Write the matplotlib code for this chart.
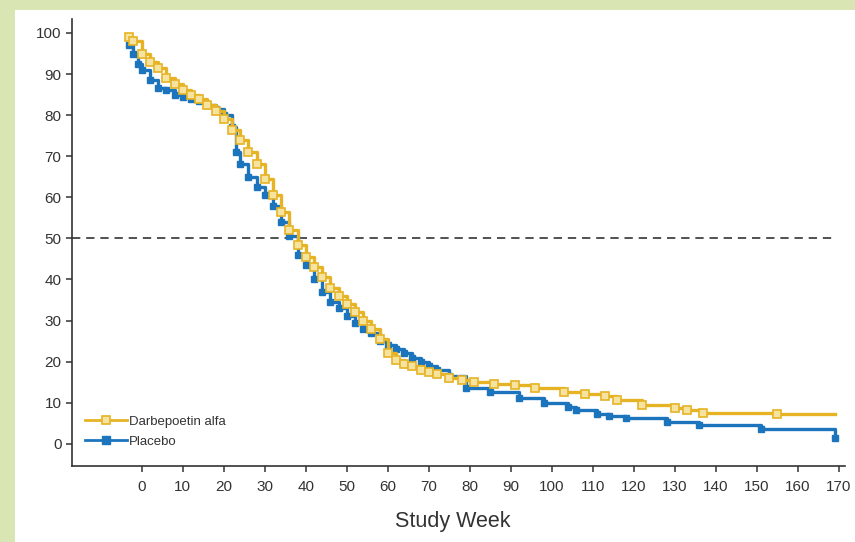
import matplotlib
matplotlib.use("Agg")
import matplotlib.pyplot as plt
from matplotlib.patches import Rectangle
from matplotlib.lines import Line2D
import matplotlib.font_manager as fm

names = {f.name for f in fm.fontManager.ttflist}
fam = [f for f in ["Liberation Sans Narrow", "Liberation Sans", "DejaVu Sans"] if f in names]
plt.rcParams['font.family'] = fam

# ---- data ----
weeks_darbe = [-3, -2, 0, 2, 4, 6, 8, 10, 12, 14, 16, 18, 20, 22, 24, 26, 28, 30, 32, 34,
               36, 38, 40, 42, 44, 46, 48, 50, 52, 54, 56, 58, 60, 62, 64, 66, 68, 70, 72,
               75, 78, 81, 86, 91, 96, 103, 108, 113, 116, 122, 130, 133, 137, 155, 169]
surv_darbe = [99, 98, 95, 93, 91.5, 89, 87.5, 86, 85, 84, 82.5, 81, 79, 76.5, 74, 71, 68,
              64.5, 60.5, 56.5, 52, 48.5, 45.5, 43, 40.5, 38, 36, 34, 32, 30, 28, 25.5, 22,
              20.5, 19.5, 19, 18, 17.5, 17, 16, 15.5, 15, 14.5, 14.2, 13.5, 12.7, 12.2, 11.7,
              10.7, 9.5, 8.8, 8.3, 7.5, 7.3, 7.3]

weeks_placebo = [-3, -2, -1, 0, 2, 4, 6, 8, 10, 12, 14, 16, 18, 20, 22, 23, 24, 26, 28, 30,
                 32, 34, 36, 38, 40, 42, 44, 46, 48, 50, 52, 54, 56, 58, 60, 62, 64, 66, 68,
                 70, 72, 75, 79, 85, 92, 98, 104, 106, 111, 114, 118, 128, 136, 151, 169]
surv_placebo = [97, 95, 92.5, 91, 88.5, 86.5, 86, 85, 84.5, 84, 83.5, 82.5, 81.5, 80, 77, 71,
                68, 65, 62.5, 60.5, 58, 54, 50.5, 46, 43.5, 40, 37, 34.5, 33, 31, 29.5, 28, 27,
                25, 24, 23, 22, 21, 20, 19, 18, 16.5, 13.6, 12.7, 11.2, 10, 9, 8.3, 7.3, 6.8,
                6.3, 5.4, 4.6, 3.6, 1.5]

x_ticks = list(range(0, 171, 10))
y_ticks = list(range(0, 101, 10))
labels = ["Darbepoetin alfa", "Placebo"]
x_label = "Study Week"

gold = "#E6B325"
pale = "#f7e3a0"
blue = "#1C75BC"
txt = "#333333"

fig = plt.figure(figsize=(8.55, 5.42), dpi=100)
fig.patch.set_facecolor("#d9e6b3")
fig.add_artist(Rectangle((15/855, 0), 1 - 15/855, 1 - 10/542, transform=fig.transFigure,
                         facecolor="white", edgecolor="none", zorder=0))

ax = fig.add_axes([0.0842, 0.1402, 0.904, 0.8255])
ax.set_facecolor("none")
xlim = (-17, 171.5)
ax.set_xlim(*xlim)
ax.set_ylim(-5.4, 103.5)

ax.axhline(50, xmin=0, xmax=(169 - xlim[0]) / (xlim[1] - xlim[0]), color="#333333",
           lw=1.2, ls=(0, (5, 3.5)), zorder=1)

ax.step(weeks_placebo, surv_placebo, where="post", color=blue, lw=2.4, zorder=2)
ax.plot(weeks_placebo, surv_placebo, ls="none", marker="s", ms=5, mfc=blue,
        mec=blue, zorder=2.5)
ax.step(weeks_darbe, surv_darbe, where="post", color=gold, lw=2.4, zorder=3)
ax.plot(weeks_darbe[:-1], surv_darbe[:-1], ls="none", marker="s", ms=5.5, mfc=pale,
        mec=gold, mew=1.2, zorder=4)

h1 = Line2D([], [], color=gold, lw=2, marker="s", ms=6, mfc=pale, mec=gold, mew=1.2)
h2 = Line2D([], [], color=blue, lw=2, marker="s", ms=6, mfc=blue, mec=blue)
ax.legend([h1, h2], labels, loc="lower left", bbox_to_anchor=(0.005, 0.02), frameon=False,
          fontsize=9.5, handlelength=3.2, handletextpad=0.1, labelspacing=0.6,
          borderpad=0.2, labelcolor=txt)

ax.set_xticks(x_ticks)
ax.set_yticks(y_ticks)
ax.tick_params(axis="both", labelsize=11, colors=txt, length=4, width=1.1, direction="out")
ax.tick_params(axis="x", pad=6)
for s in ["top", "right"]:
    ax.spines[s].set_visible(False)
for s in ["left", "bottom"]:
    ax.spines[s].set_color("#333333")
    ax.spines[s].set_linewidth(1.2)

fig.text(453/855, 1 - 522/542, x_label, ha="center", va="center", fontsize=15.5, color=txt)

fig.savefig("out.png", dpi=100, facecolor=fig.get_facecolor())
